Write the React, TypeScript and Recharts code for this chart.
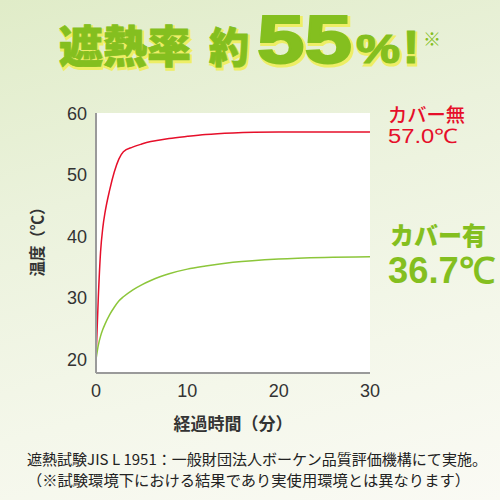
import React from "react";
import { LineChart, Line, XAxis, YAxis, CartesianGrid } from "recharts";

const minutes = [0, 0.25, 0.5, 0.75, 1, 1.5, 2, 2.5, 3, 4, 5, 6, 7, 8, 10, 12, 15, 20, 25, 30];
const withoutCover = [20, 30, 37.5, 41.5, 44, 47.6, 50.5, 52.6, 53.8, 54.55, 55.05, 55.45, 55.72, 55.95, 56.3, 56.6, 56.85, 57.0, 57.02, 57.0];
const withCover = [20, 22.3, 23.8, 24.9, 25.8, 27.3, 28.5, 29.5, 30.2, 31.3, 32.15, 32.85, 33.45, 33.95, 34.7, 35.2, 35.8, 36.35, 36.6, 36.7];
const xTicks = [0, 10, 20, 30];
const yTicks = [20, 30, 40, 50, 60];

const data = minutes.map((t, i) => ({ t, a: withoutCover[i], b: withCover[i] }));

const JP = '"Noto Sans CJK JP", "Noto Sans", sans-serif';
const NUM = '"Liberation Sans", Arial, sans-serif';
const GREEN = "#84bf1f";
const RED = "#e60f2a";
const GLOW = "#eeee66";

function Glow({ x, y, size, family, len, children, weight = 900, thick = 1 }: any) {
  const common: any = {
    x,
    y,
    fontSize: size,
    fontFamily: family,
    fontWeight: weight,
    ...(len ? { textLength: len, lengthAdjust: "spacingAndGlyphs" } : {}),
  };
  return (
    <g>
      <text {...common} x={x + 1.5} y={y + 1.5} fill={GLOW} stroke={GLOW} strokeWidth={thick + 2}>
        {children}
      </text>
      <text {...common} fill={GREEN} stroke={GREEN} strokeWidth={thick}>
        {children}
      </text>
    </g>
  );
}

export default function App() {
  return (
    <div
      style={{
        position: "fixed",
        left: 0,
        top: 0,
        width: 500,
        height: 500,
        background: "linear-gradient(165deg, #e0ecc8 0%, #ebf2dc 35%, #f4f7ea 70%, #fafaf4 100%)",
        overflow: "hidden",
      }}
    >
      <LineChart
        width={500}
        height={500}
        data={data}
        margin={{ top: 113, right: 130, bottom: 0, left: 0 }}
        style={{ position: "absolute", left: 0, top: 0 }}
      >
        <CartesianGrid fill="#ffffff" horizontal={false} vertical={false} />
        <XAxis
          dataKey="t"
          type="number"
          domain={[0, 30]}
          ticks={xTicks}
          height={127}
          tickLine={false}
          tickSize={0}
          tickMargin={11}
          axisLine={{ stroke: "#9a9a9a", strokeWidth: 2 }}
          tick={{ fill: "#333", fontSize: 18, fontFamily: NUM }}
          interval={0}
        />
        <YAxis
          type="number"
          domain={[17.8, 60.1]}
          ticks={yTicks}
          width={96}
          tickLine={false}
          tickSize={0}
          tickMargin={9}
          axisLine={{ stroke: "#9a9a9a", strokeWidth: 2 }}
          tick={{ fill: "#333", fontSize: 18, fontFamily: NUM }}
          interval={0}
          allowDataOverflow
        />
        <Line
          type="monotone"
          dataKey="a"
          stroke={RED}
          strokeWidth={1.5}
          dot={false}
          isAnimationActive={false}
        />
        <Line
          type="monotone"
          dataKey="b"
          stroke="#8cc63a"
          strokeWidth={1.5}
          dot={false}
          isAnimationActive={false}
        />
      </LineChart>

      <svg
        width={500}
        height={500}
        style={{ position: "absolute", left: 0, top: 0, pointerEvents: "none" }}
      >
        {/* title */}
        <Glow x={59} y={63} size={44} family={JP} len={132} thick={0.8}>遮熱率</Glow>
        <Glow x={209} y={63} size={42} family={JP} len={40} thick={0.8}>約</Glow>
        <Glow x={257} y={63} size={68} family={NUM} len={95} thick={2}>55</Glow>
        <Glow x={356} y={63} size={40} family={NUM} len={44} thick={1.2}>%</Glow>
        <Glow x={403} y={63} size={46} family={NUM} len={16} thick={1.2}>!</Glow>
        <text x={423} y={46} fontSize={18} fontFamily={JP} fontWeight={700} fill={GREEN}>※</text>

        {/* axis titles */}
        <text
          x={0}
          y={0}
          transform="translate(43,238) rotate(-90)"
          textAnchor="middle"
          fontFamily={JP}
          fontSize={16}
          fontWeight={700}
          fill="#333"
          textLength={77}
          lengthAdjust="spacingAndGlyphs"
        >
          温度（℃）
        </text>
        <text
          x={233}
          y={430}
          textAnchor="middle"
          fontFamily={JP}
          fontSize={17}
          fontWeight={700}
          fill="#333"
        >
          経過時間（分）
        </text>

        {/* right labels */}
        <text x={388} y={122} fontFamily={JP} fontSize={19} fontWeight={500} fill={RED} textLength={77} lengthAdjust="spacingAndGlyphs">
          カバー無
        </text>
        <text x={388} y={143} fontFamily={NUM} fontSize={20} fill={RED} textLength={70} lengthAdjust="spacingAndGlyphs">
          57.0℃
        </text>
        <text x={390} y={245} fontFamily={JP} fontSize={25} fontWeight={900} fill={GREEN} textLength={96} lengthAdjust="spacingAndGlyphs">
          カバー有
        </text>
        <text x={388} y={283} fontFamily={NUM} fontSize={36} fontWeight={700} fill={GREEN} textLength={107} lengthAdjust="spacingAndGlyphs">
          36.7℃
        </text>

        {/* footnotes */}
        <text x={27} y={465} fontFamily={JP} fontSize={15} fill="#222" textLength={460} lengthAdjust="spacingAndGlyphs">
          遮熱試験JIS L 1951：一般財団法人ボーケン品質評価機構にて実施。
        </text>
        <text x={27} y={486} fontFamily={JP} fontSize={15} fill="#222" textLength={443} lengthAdjust="spacingAndGlyphs">
          （※試験環境下における結果であり実使用環境とは異なります）
        </text>
      </svg>
    </div>
  );
}
